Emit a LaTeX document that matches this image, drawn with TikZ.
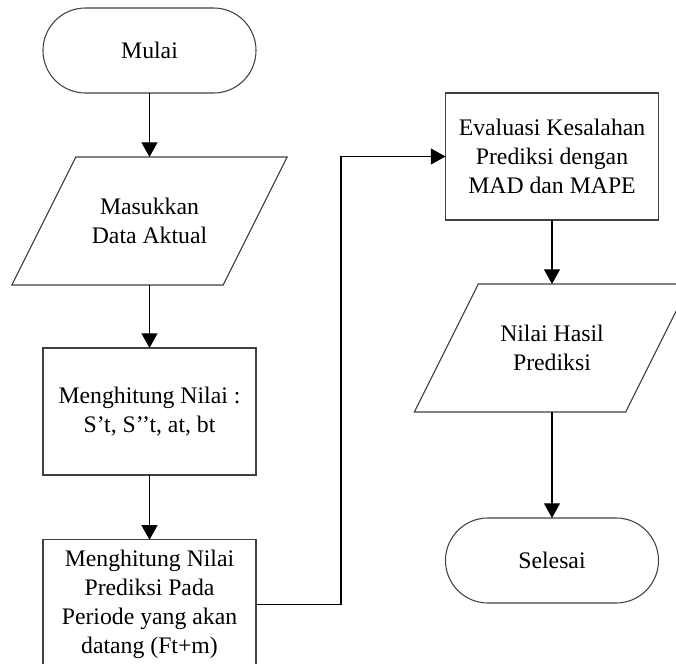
\documentclass[tikz,border=0pt]{standalone}
\usepackage{fontspec}
\setmainfont{Liberation Serif}
\usetikzlibrary{arrows.meta}

\tikzset{
  shapeline/.style={draw=black!75, line width=0.8pt},
  terminal/.style={shapeline, rectangle, rounded corners=31.8pt,
    minimum width=159.75pt, minimum height=63.75pt, inner sep=0pt, outer sep=0pt,
    align=center, font=\fontsize{17.8pt}{21.8pt}\selectfont},
  process/.style={shapeline, rectangle,
    minimum width=159.75pt, minimum height=95.25pt, inner sep=0pt, outer sep=0pt,
    align=center, font=\fontsize{17.8pt}{21.8pt}\selectfont},
  iobody/.style={rectangle, draw=none,
    minimum width=158.5pt, minimum height=96pt, inner sep=0pt, outer sep=0pt,
    align=center, font=\fontsize{17.8pt}{21.8pt}\selectfont},
  flow/.style={draw=black, line width=0.8pt, -{Triangle[width=12pt,length=11pt]}},
}

\begin{document}
\begin{tikzpicture}[x=0.75pt, y=-0.75pt]
  \useasboundingbox (0,0) rectangle (676,664);

  % left column
  \node[terminal] (mulai) at (149.5,50.5) {Mulai};
  \node[iobody] (masuk) at (149.5,221) {Masukkan\\Data Aktual};
  \draw[shapeline] ([xshift=24pt]masuk.north west) -- ([xshift=24pt]masuk.north east)
    -- ([xshift=-24pt]masuk.south east) -- ([xshift=-24pt]masuk.south west) -- cycle;
  \node[process] (hitung) at (149.5,411.5) {Menghitung Nilai :\\S’t, S’’t, at, bt};
  \node[process, minimum height=97pt] (prediksi) at (149.5,604.5) {Menghitung Nilai\\Prediksi Pada\\Periode yang akan\\datang (Ft+m)};

  % right column
  \node[process] (eval) at (552,156.5) {Evaluasi Kesalahan\\Prediksi dengan\\MAD dan MAPE};
  \node[iobody] (hasil) at (552,348) {Nilai Hasil\\Prediksi};
  \draw[shapeline] ([xshift=24pt]hasil.north west) -- ([xshift=24pt]hasil.north east)
    -- ([xshift=-24pt]hasil.south east) -- ([xshift=-24pt]hasil.south west) -- cycle;
  \node[terminal] (selesai) at (552,560.5) {Selesai};

  % connectors
  \coordinate (bend) at (341,604.5);
  \draw[flow] (mulai) -- (masuk);
  \draw[flow] (masuk) -- (hitung);
  \draw[flow] (hitung) -- (prediksi);
  \draw[flow] (prediksi.east) -- (bend) |- (eval.west);
  \draw[flow] (eval) -- (hasil);
  \draw[flow] (hasil) -- (selesai);
\end{tikzpicture}
\end{document}
